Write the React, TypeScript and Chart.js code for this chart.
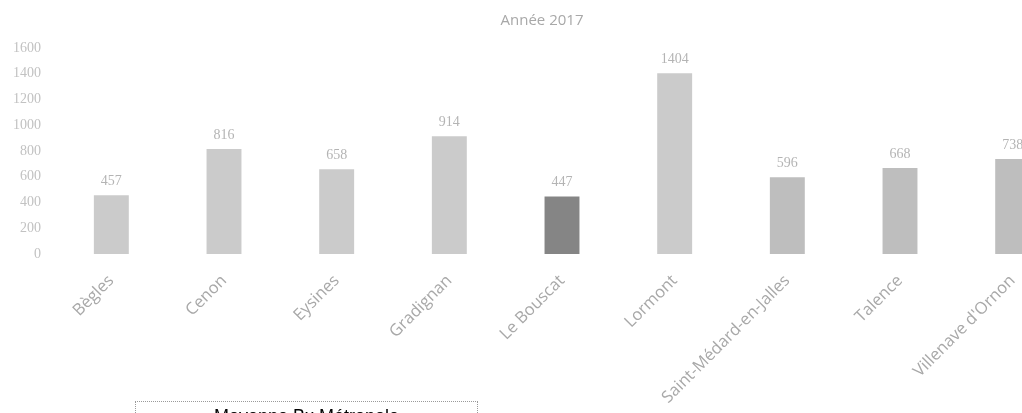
import React, { useEffect, useRef } from "react";
import { Chart, registerables } from "chart.js";

Chart.register(...registerables);

const categories = [
  "Bègles",
  "Cenon",
  "Eysines",
  "Gradignan",
  "Le Bouscat",
  "Lormont",
  "Saint-Médard-en-Jalles",
  "Talence",
  "Villenave d'Ornon",
];
const values = [457, 816, 658, 914, 447, 1404, 596, 668, 738];
const barColors = [
  "#cbcbcb",
  "#cbcbcb",
  "#cbcbcb",
  "#cbcbcb",
  "#858585",
  "#cbcbcb",
  "#bebebe",
  "#bebebe",
  "#bebebe",
];
const yTicks = { min: 0, max: 1600, step: 200 };
const titleText = "Année 2017";
const boxText = "Moyenne Bx Métropole";

export default function App() {
  const ref = useRef<HTMLCanvasElement | null>(null);

  useEffect(() => {
    const canvas = ref.current;
    if (!canvas) return;
    const labelPlugin = {
      id: "valueLabels",
      afterDatasetsDraw(chart: any) {
        const ctx = chart.ctx;
        const meta = chart.getDatasetMeta(0);
        ctx.save();
        ctx.font = "14px 'Liberation Serif'";
        ctx.fillStyle = "#b4b4b4";
        ctx.textAlign = "center";
        ctx.textBaseline = "middle";
        meta.data.forEach((bar: any, i: number) => {
          ctx.fillText(String(values[i]), bar.x, bar.y - 14);
        });
        ctx.restore();
      },
      afterDraw(chart: any) {
        const ctx = chart.ctx;
        ctx.save();
        ctx.font = "15px 'Open Sans'";
        ctx.fillStyle = "#a8a8a8";
        ctx.textAlign = "center";
        ctx.textBaseline = "middle";
        ctx.fillText(titleText, 542, 21);
        ctx.restore();
      },
    };
    const chart = new Chart(canvas, {
      type: "bar",
      data: {
        labels: categories,
        datasets: [
          {
            data: values,
            backgroundColor: barColors,
            borderWidth: 0,
            barPercentage: 0.62,
            categoryPercentage: 0.5,
          },
        ],
      },
      options: {
        animation: false,
        responsive: false,
        devicePixelRatio: 1,
        layout: { padding: { top: 48, right: 16, bottom: 0, left: 0 } },
        plugins: {
          legend: { display: false },
          title: { display: false },
          tooltip: { enabled: false },
        },
        scales: {
          x: {
            grid: { display: false, drawTicks: false },
            border: { display: false },
            ticks: {
              autoSkip: false,
              minRotation: 45,
              maxRotation: 45,
              padding: 17,
              color: "#a8a8a8",
              font: { family: "'Open Sans'", size: 16.5 },
            },
            afterFit: (s: any) => {
              s.height = 159;
            },
          },
          y: {
            min: yTicks.min,
            max: yTicks.max,
            grid: { display: false, drawTicks: false },
            border: { display: false },
            ticks: {
              stepSize: yTicks.step,
              padding: 14,
              color: "#c2c2c2",
              font: { family: "'Liberation Serif'", size: 14 },
              callback: (v: any) => String(v),
            },
            afterFit: (s: any) => {
              s.width = 55;
            },
          },
        },
      },
      plugins: [labelPlugin],
    } as any);
    return () => chart.destroy();
  }, []);

  return (
    <div
      style={{
        position: "fixed",
        left: 0,
        top: 0,
        width: 1022,
        height: 413,
        overflow: "hidden",
        background: "#fff",
      }}
    >
      <canvas
        ref={ref}
        width={1085}
        height={413}
        style={{ position: "absolute", left: 0, top: 0, width: 1085, height: 413 }}
      />
      <div
        style={{
          position: "absolute",
          left: 135,
          top: 401,
          width: 343,
          height: 40,
          border: "1px dotted #9a9a9a",
          boxSizing: "border-box",
          textAlign: "center",
          fontFamily: "'Liberation Sans', Arial, sans-serif",
          fontSize: 18,
          lineHeight: "20px",
          paddingTop: 4,
          color: "#000",
        }}
      >
        {boxText}
      </div>
    </div>
  );
}
